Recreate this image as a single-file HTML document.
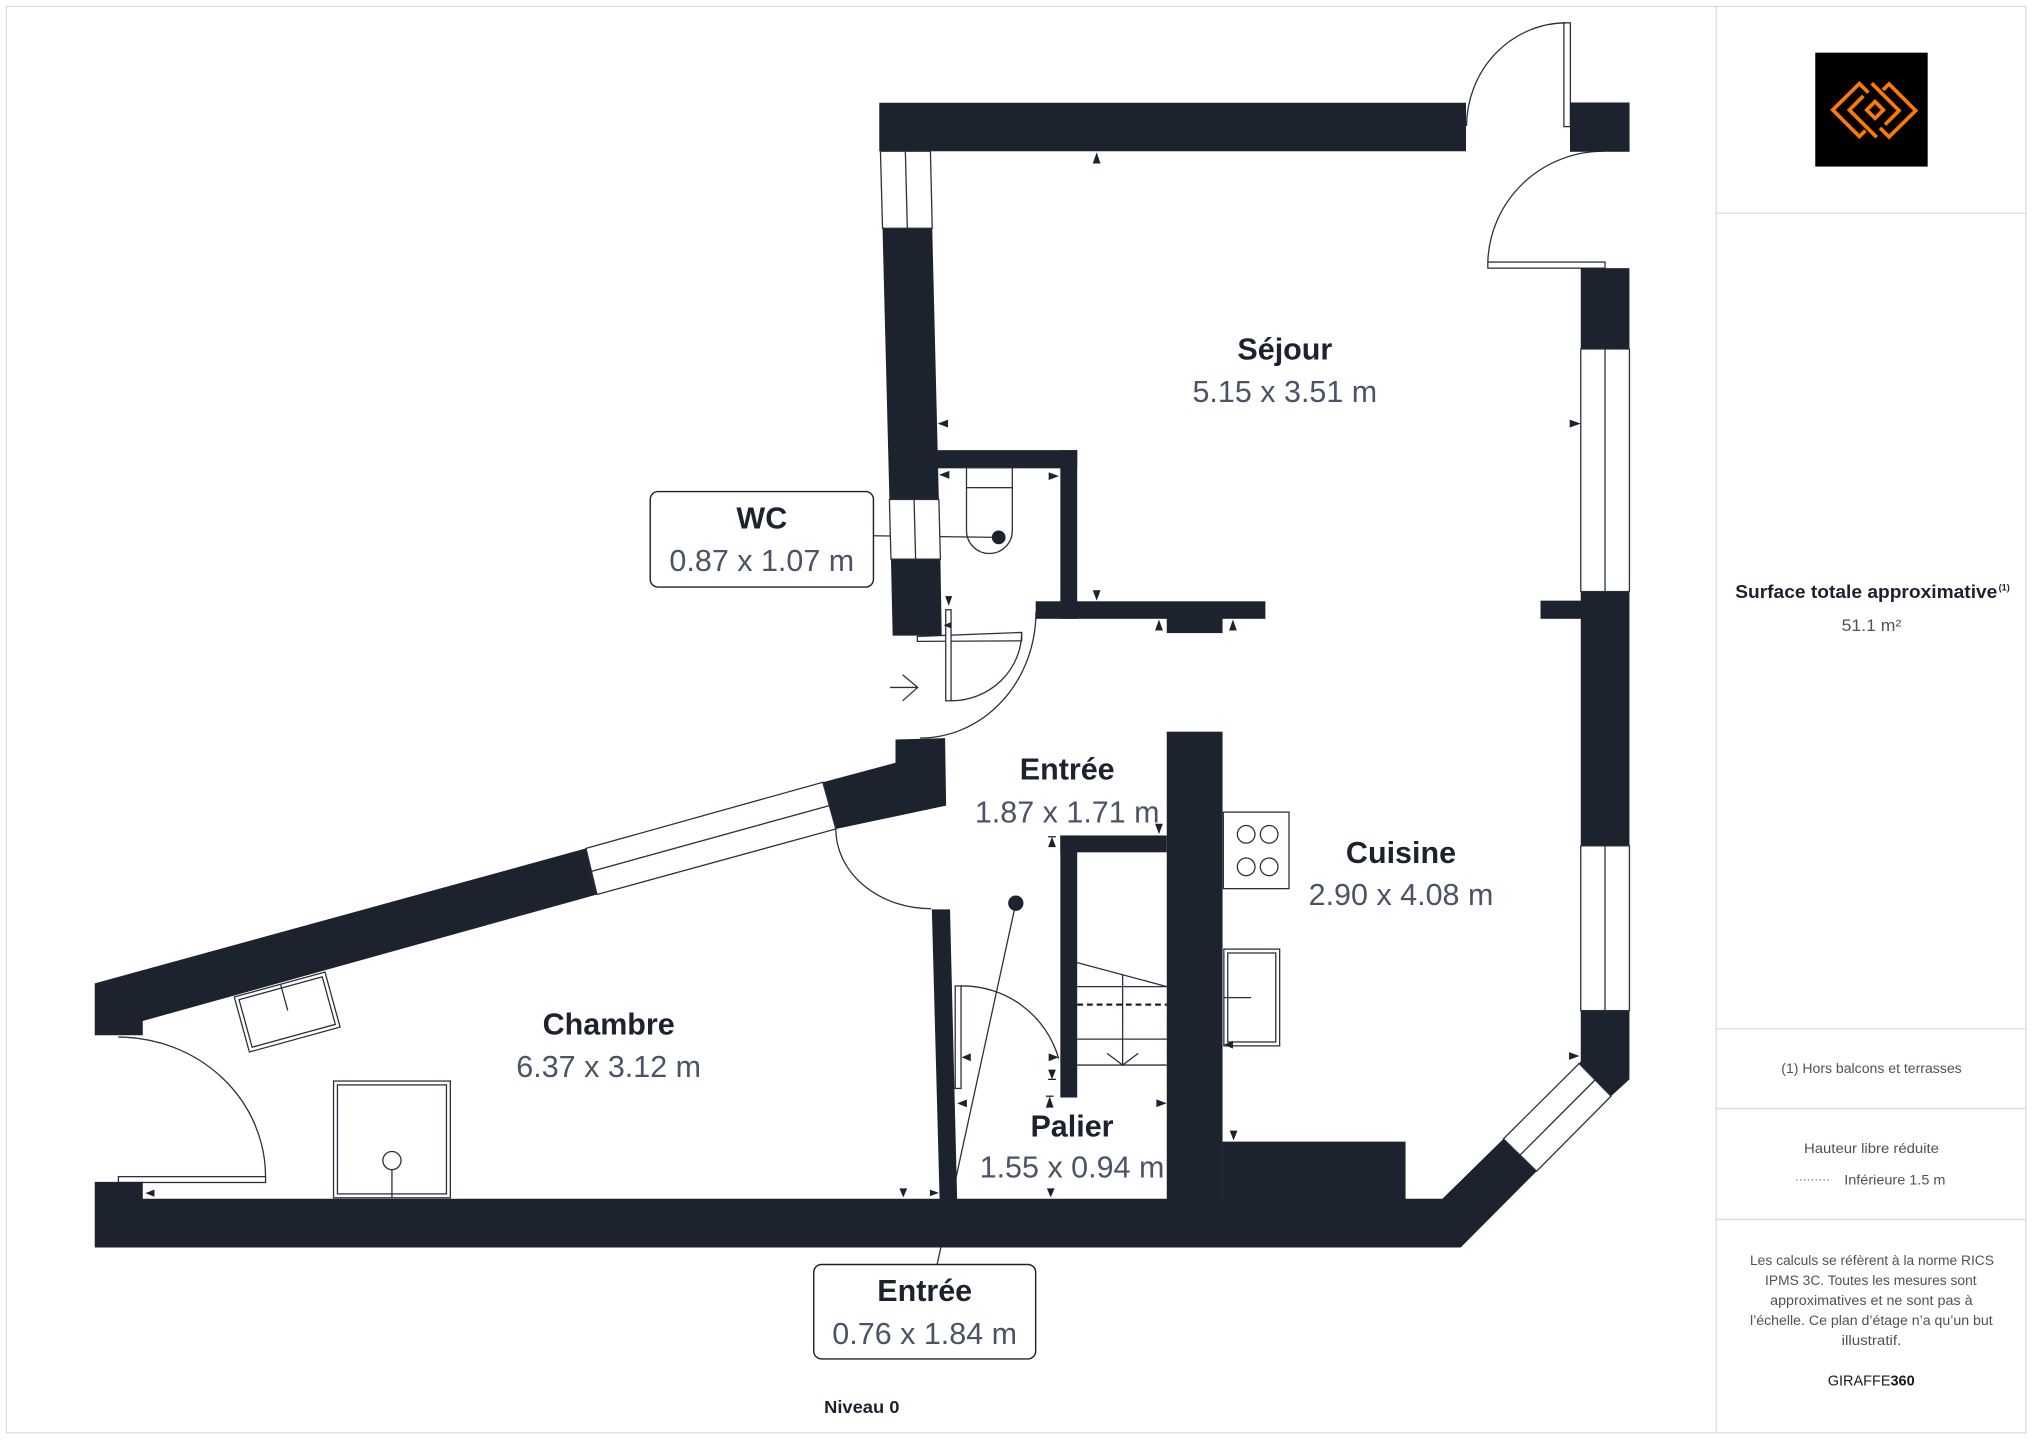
<!DOCTYPE html>
<html><head><meta charset="utf-8">
<style>
html,body{margin:0;padding:0;background:#fff;}
svg{display:block;}
text{font-family:"Liberation Sans",sans-serif;}
.n{font-weight:bold;font-size:23.5px;fill:#1c222e;}
.d{font-size:23.5px;fill:#4a5466;}
.p{font-size:10.8px;fill:#4d525a;}
.ln{fill:none;stroke:#2b313c;stroke-width:1;}
.wl{fill:#fff;stroke:#2b313c;stroke-width:1;}
</style></head><body>
<svg width="2035" height="1440" viewBox="0 0 1568 1110" preserveAspectRatio="none" xmlns="http://www.w3.org/2000/svg">
<rect x="0" y="0" width="1568" height="1110" fill="#fff"/>
<!-- page border / panel -->
<rect x="5" y="5" width="1556" height="1099.4" fill="none" stroke="#dcdcdc" stroke-width="1"/>
<line x1="1322.4" y1="5" x2="1322.4" y2="1104.4" stroke="#dcdcdc" stroke-width="1"/>
<line x1="1322.4" y1="164.5" x2="1561" y2="164.5" stroke="#dcdcdc" stroke-width="1"/>
<line x1="1322.4" y1="793" x2="1561" y2="793" stroke="#dcdcdc" stroke-width="1"/>
<line x1="1322.4" y1="854.5" x2="1561" y2="854.5" stroke="#dcdcdc" stroke-width="1"/>
<line x1="1322.4" y1="940" x2="1561" y2="940" stroke="#dcdcdc" stroke-width="1"/>

<!-- logo -->
<rect x="1398.7" y="40.6" width="86.6" height="87.8" fill="#000"/>
<g transform="translate(1386.97,30.82) scale(0.2568)" fill="none" stroke="#ff7a00" stroke-width="11" stroke-linejoin="miter">
<polyline points="205,158 178,131 98,210 178,290 196,272"/>
<polyline points="190,168 148,210 230,292"/>
<polygon points="200,210 225,185 250,210 225,235"/>
<polyline points="240,264 267,291 347,212 267,132 249,150"/>
<polyline points="255,254 297,212 215,130"/>
</g>

<!-- thin lines under walls -->
<line class="ln" x1="673" y1="413" x2="769.5" y2="414.2"/>
<line class="ln" x1="782.7" y1="696.2" x2="722" y2="975"/>
<circle cx="782.7" cy="696.2" r="5.9" fill="#1c222e"/>

<!-- doors -->
<rect class="wl" x="1205" y="17.6" width="5" height="80"/>
<path class="ln" d="M1207,17.6 A77,80 0 0 0 1130,97"/>
<rect class="wl" x="1146.4" y="202" width="90.3" height="4.7"/>
<path class="ln" d="M1235.6,116.6 A89,88 0 0 0 1146.4,202"/>
<path class="ln" d="M798.2,472 A89,97 0 0 1 708.9,568.9"/>
<polygon class="wl" points="706.8,490.6 787.2,487.5 787.2,494 706.8,494.4"/>
<rect class="wl" x="728.7" y="470" width="4.1" height="70.2"/>
<path class="ln" d="M732.8,540.2 A54.4,52.7 0 0 0 787.2,487.5"/>
<path class="ln" d="M644,639 A73.5,61.5 0 0 0 717.5,700.5"/>
<rect class="wl" x="736" y="760" width="4.5" height="79"/>
<path class="ln" d="M740.5,760 A77,77 0 0 1 815.7,816"/>
<rect class="wl" x="91.2" y="907" width="113.4" height="4.5"/>
<path class="ln" d="M91.2,799.4 A113.6,107.6 0 0 1 204.6,907"/>
<!-- entry arrow -->
<line class="ln" x1="685.8" y1="529.9" x2="707.1" y2="529.9"/>
<polyline class="ln" points="695.5,520.1 707.1,529.9 695.5,540.2"/>

<!-- walls -->
<g fill="#1c222e">
<rect x="677.5" y="79.2" width="452.1" height="37.4"/>
<rect x="1209.7" y="79" width="45.9" height="38"/>
<polygon points="680,176 718.3,176 723.4,385 685.3,385"/>
<polygon points="686.5,431 724.6,431 725.6,490 687.8,490"/>
<rect x="721" y="347" width="109" height="14"/>
<rect x="817" y="347" width="13" height="130"/>
<rect x="798" y="463.5" width="177" height="13.5"/>
<rect x="899" y="476" width="43" height="12"/>
<rect x="1218" y="206.7" width="37.5" height="62.3"/>
<rect x="1218" y="456" width="37.5" height="196"/>
<rect x="1187" y="463" width="32" height="14"/>
<polygon points="1218,779 1255.5,779 1255.5,832 1241.3,845 1216.7,819.8 1218,818"/>
<polygon points="73,911 110,911 110,924 1111.4,924 1158.4,877.9 1184,902.8 1125.5,961.6 73,961.6"/>
<rect x="942" y="880" width="141" height="45"/>
<rect x="899" y="564" width="43" height="361"/>
<rect x="817" y="644" width="82" height="13"/>
<rect x="817" y="644" width="13" height="202"/>
<polygon points="718,701 732,701 737.5,925 724,925"/>
<polygon points="73,758 451.5,654 460,689.5 110,787 110,798 73,798"/>
<polygon points="634,603 690,588 690,570 728.2,569 729,621 644,639"/>
</g>

<!-- windows -->
<polygon class="wl" points="678.4,116.6 716.9,116.6 718.3,176 680,176"/>
<line class="ln" x1="697.6" y1="116.6" x2="699.1" y2="176"/>
<polygon class="wl" points="685.3,385 723.4,385 724.6,431 686.5,431"/>
<line class="ln" x1="704.3" y1="385" x2="705.5" y2="431"/>
<rect class="wl" x="1218" y="269" width="37.5" height="187"/>
<line class="ln" x1="1236.7" y1="269" x2="1236.7" y2="456"/>
<rect class="wl" x="1218" y="652" width="37.5" height="127"/>
<line class="ln" x1="1236.7" y1="652" x2="1236.7" y2="779"/>
<polygon class="wl" points="1216.7,819.8 1241.3,845 1184,902.8 1158.4,877.9"/>
<line class="ln" x1="1229" y1="832.5" x2="1171.2" y2="890.4"/>
<polygon class="wl" points="451.5,654 634,603 644,639 460,689.5"/>
<line class="ln" x1="455.7" y1="671.7" x2="639" y2="621"/>

<!-- WC toilet -->
<rect class="wl" x="744.7" y="360.6" width="35.3" height="15.3"/>
<path class="ln" d="M744.7,375.9 L744.7,409 A17.65,17.65 0 0 0 780,409 L780,375.9"/>
<circle cx="769.5" cy="414.2" r="5.3" fill="#1c222e"/>

<!-- stairs -->
<line class="ln" x1="830" y1="742" x2="899" y2="760.5"/>
<line class="ln" x1="830" y1="760.5" x2="899" y2="760.5"/>
<line x1="830" y1="774.4" x2="899" y2="774.4" stroke="#1c222e" stroke-width="1.8" stroke-dasharray="4.5,3"/>
<line class="ln" x1="830" y1="801" x2="899" y2="801"/>
<line class="ln" x1="830" y1="821" x2="899" y2="821"/>
<line class="ln" x1="865" y1="751" x2="865" y2="821"/>
<polyline class="ln" points="853,812 865,821 877,812"/>

<!-- kitchen -->
<rect class="wl" x="942.6" y="626" width="50.6" height="59"/>
<circle class="ln" cx="960.2" cy="643.1" r="6.8"/>
<circle class="ln" cx="977.9" cy="643.1" r="6.8"/>
<circle class="ln" cx="960.2" cy="668.2" r="6.8"/>
<circle class="ln" cx="977.9" cy="668.2" r="6.8"/>
<rect class="wl" x="943" y="731.6" width="43" height="74.6"/>
<rect class="ln" x="946" y="734.6" width="37" height="68.6"/>
<line class="ln" x1="943" y1="769" x2="964" y2="769"/>

<!-- chambre furniture -->
<g transform="translate(180.5,768.5) rotate(-15.36)">
<rect class="wl" x="0" y="0" width="72.5" height="44"/>
<rect class="ln" x="3" y="3" width="66.5" height="38"/>
<line class="ln" x1="37" y1="0" x2="37" y2="21"/>
</g>
<rect class="wl" x="257" y="833.3" width="90" height="90"/>
<rect class="ln" x="260" y="836.3" width="84" height="84"/>
<circle class="ln" cx="302" cy="894.6" r="7"/>
<line class="ln" x1="302" y1="901.6" x2="302" y2="923"/>

<!-- dimension markers -->
<g fill="#1c222e">
<polygon points="845,117.5 842,126 848,126"/>
<polygon points="722.5,326.5 730.5,323.5 730.5,329.5"/>
<polygon points="1218,326.5 1209.5,323.5 1209.5,329.5"/>
<polygon points="723.5,366 731.5,363 731.5,369"/>
<polygon points="816,367 808,364 808,370"/>
<polygon points="845,463 842,455 848,455"/>
<polygon points="893,477.5 890,486 896,486"/>
<polygon points="950,477.5 947,486 953,486"/>
<polygon points="731,467 728.5,460 733.5,460"/>
<polygon points="727,482 733,479.5 733,484.5"/>
<polygon points="893,643 890,635 896,635"/>
<polygon points="810.6,645 807.6,653 813.6,653"/>
<polygon points="737.5,850.5 745,847.5 745,853.5"/>
<polygon points="741,815 748,812 748,818"/>
<polygon points="815.7,815 808,812 808,818"/>
<polygon points="810.6,832 807.6,824.5 813.6,824.5"/>
<polygon points="808.8,845 805.8,853.8 811.8,853.8"/>
<polygon points="899,850.4 891,847.4 891,853.4"/>
<polygon points="809.6,923 806.6,916 812.6,916"/>
<polygon points="950.5,879 947.5,871.5 953.5,871.5"/>
<polygon points="943,805.3 950,802.3 950,808.3"/>
<polygon points="112,919.7 119,917 119,922.5"/>
<polygon points="696,923 693,916 699,916"/>
<polygon points="723.5,919.5 716.5,917 716.5,922"/>
<polygon points="1217,814 1209,811 1209,817"/>
</g>
<g stroke="#1c222e" stroke-width="1">
<line x1="728.5" y1="460" x2="733.5" y2="460"/>
<line x1="807.6" y1="645" x2="813.6" y2="645"/>
<line x1="807.6" y1="832" x2="813.6" y2="832"/>
<line x1="805.8" y1="845" x2="811.8" y2="845"/>
</g>

<!-- label boxes -->
<rect x="501" y="378.9" width="172" height="73.6" rx="6" ry="6" fill="#fff" stroke="#1c222e" stroke-width="1.1"/>
<rect x="627" y="974.7" width="171" height="72.8" rx="6" ry="6" fill="#fff" stroke="#1c222e" stroke-width="1.1"/>

<!-- room labels -->
<text class="n" x="990" y="277.3" text-anchor="middle">Séjour</text>
<text class="d" x="990" y="309.8" text-anchor="middle">5.15 x 3.51 m</text>
<text class="n" x="587" y="407.5" text-anchor="middle">WC</text>
<text class="d" x="587" y="440.2" text-anchor="middle">0.87 x 1.07 m</text>
<text class="n" x="822.3" y="601" text-anchor="middle">Entrée</text>
<text class="d" x="822.3" y="634" text-anchor="middle">1.87 x 1.71 m</text>
<text class="n" x="1079.5" y="665.2" text-anchor="middle">Cuisine</text>
<text class="d" x="1079.5" y="697.6" text-anchor="middle">2.90 x 4.08 m</text>
<text class="n" x="469" y="797.3" text-anchor="middle">Chambre</text>
<text class="d" x="469" y="830.3" text-anchor="middle">6.37 x 3.12 m</text>
<text class="n" x="826" y="876" text-anchor="middle">Palier</text>
<text class="d" x="826" y="907.7" text-anchor="middle">1.55 x 0.94 m</text>
<text class="n" x="712.5" y="1003" text-anchor="middle">Entrée</text>
<text class="d" x="712.5" y="1036" text-anchor="middle">0.76 x 1.84 m</text>

<text x="664" y="1089" text-anchor="middle" font-weight="bold" font-size="13.5" fill="#1c222e" textLength="58" lengthAdjust="spacingAndGlyphs">Niveau 0</text>

<!-- panel texts -->
<text x="1337" y="461" font-weight="bold" font-size="14" fill="#1c222e" textLength="202" lengthAdjust="spacingAndGlyphs">Surface totale approximative</text>
<text x="1540" y="455" font-weight="bold" font-size="7" fill="#1c222e">(1)</text>
<text x="1442" y="486.5" text-anchor="middle" font-size="12.5" fill="#4d525a" textLength="46" lengthAdjust="spacingAndGlyphs">51.1 m²</text>

<text class="p" x="1442" y="827" text-anchor="middle" textLength="139" lengthAdjust="spacingAndGlyphs">(1) Hors balcons et terrasses</text>
<text class="p" x="1442" y="888.7" text-anchor="middle" textLength="104" lengthAdjust="spacingAndGlyphs">Hauteur libre réduite</text>
<line x1="1384" y1="909.5" x2="1411" y2="909.5" stroke="#6b7079" stroke-width="0.9" stroke-dasharray="1,2"/>
<text class="p" x="1421" y="913" textLength="78" lengthAdjust="spacingAndGlyphs">Inférieure 1.5 m</text>

<text class="p" x="1442.4" y="975" text-anchor="middle" textLength="188" lengthAdjust="spacingAndGlyphs">Les calculs se réfèrent à la norme RICS</text>
<text class="p" x="1441.5" y="990.4" text-anchor="middle" textLength="163" lengthAdjust="spacingAndGlyphs">IPMS 3C. Toutes les mesures sont</text>
<text class="p" x="1441.9" y="1005.8" text-anchor="middle" textLength="156" lengthAdjust="spacingAndGlyphs">approximatives et ne sont pas à</text>
<text class="p" x="1441.9" y="1021.2" text-anchor="middle" textLength="187" lengthAdjust="spacingAndGlyphs">l’échelle. Ce plan d’étage n’a qu’un but</text>
<text class="p" x="1442" y="1036.6" text-anchor="middle" textLength="46" lengthAdjust="spacingAndGlyphs">illustratif.</text>
<text x="1408.3" y="1068" font-size="11.7" fill="#1a1a1a" textLength="67" lengthAdjust="spacingAndGlyphs">GIRAFFE<tspan font-weight="bold">360</tspan></text>
</svg>
</body></html>
